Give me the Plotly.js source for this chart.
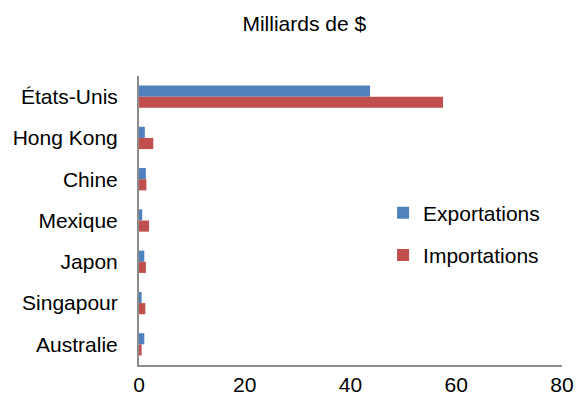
<!DOCTYPE html>
<html><head><meta charset="utf-8">
<script src="https://cdn.plot.ly/plotly-3.0.1.min.js"></script>
<style>body{margin:0;background:#fff}#c{width:584px;height:400px}</style>
</head><body><div id="c"></div>
<script>
const countries = ["États-Unis","Hong Kong","Chine","Mexique","Japon","Singapour","Australie"];
const exportations = [43.7,1.1,1.3,0.6,1.0,0.5,1.0];
const importations = [57.5,2.7,1.4,1.9,1.3,1.2,0.5];
const xTicks = [0,20,40,60,80];

const data = [
  {type:'bar',orientation:'h',name:'Exportations',y:countries,x:exportations,
   marker:{color:'#4f81bd'},legendgroup:'a'},
  {type:'bar',orientation:'h',name:'Importations',y:countries,x:importations,
   marker:{color:'#c0504d'},legendgroup:'b'}
];
const layout = {
  width:584,height:400,
  margin:{l:139,r:22,t:76,b:35},
  paper_bgcolor:'#fff',plot_bgcolor:'#fff',
  font:{family:'Liberation Sans, Arial, sans-serif',size:21,color:'#000'},
  title:{text:'Milliards de $',x:0.521,xanchor:'center',y:0.94,yanchor:'middle',font:{size:21}},
  barmode:'group',bargap:0.46,bargroupgap:0,
  xaxis:{range:[0,80],tickvals:xTicks,showgrid:false,zeroline:false,
         showline:true,linecolor:'#8c8c8c',linewidth:2,ticks:'',ticklen:0,
         tickfont:{size:21},fixedrange:true},
  yaxis:{autorange:'reversed',showgrid:false,zeroline:false,showline:true,
         linecolor:'#8c8c8c',linewidth:2,ticks:'',tickfont:{size:21},ticklabelstandoff:15},
  showlegend:true,
  legend:{x:0.577,y:0.453,xanchor:'left',yanchor:'middle',traceorder:'grouped',
          tracegroupgap:12,font:{size:21},bgcolor:'rgba(0,0,0,0)'}
};
Plotly.newPlot('c',data,layout,{displayModeBar:false,staticPlot:true});
</script></body></html>
